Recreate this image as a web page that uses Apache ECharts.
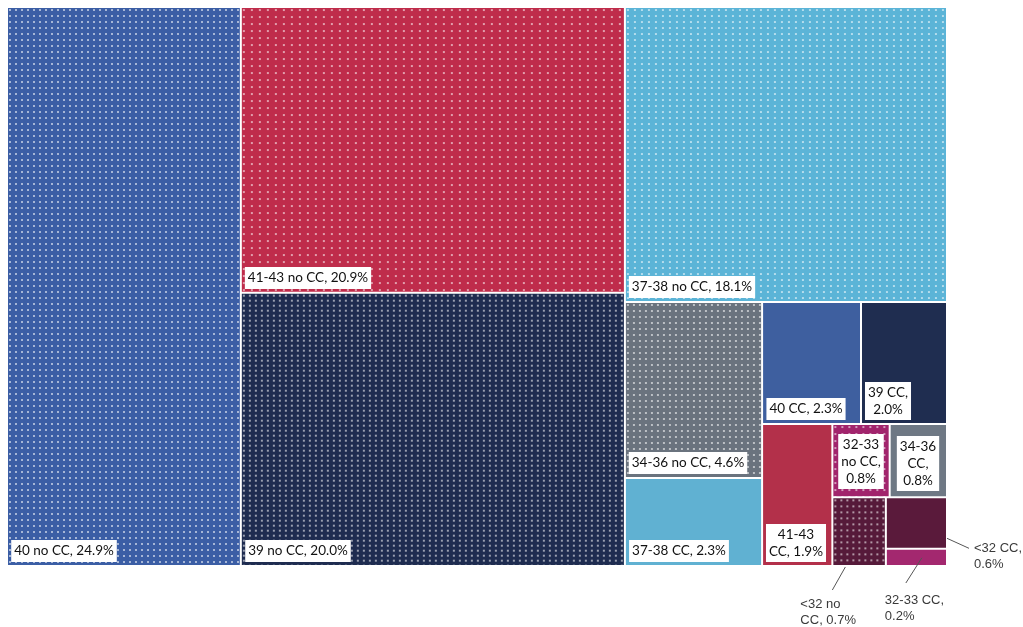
<!DOCTYPE html>
<html><head><meta charset="utf-8">
<script src="https://cdn.jsdelivr.net/npm/echarts@6/dist/echarts.min.js"></script>
<style>html,body{margin:0;padding:0;background:#fff}#c{width:1023px;height:627px}</style>
</head><body><div id="c"></div>
<script>
// ---------- data ----------
const names = ['40 no CC','41-43 no CC','39 no CC','37-38 no CC','34-36 no CC','37-38 CC','40 CC','39 CC','41-43 CC','32-33 no CC','34-36 CC','<32 no CC','<32 CC','32-33 CC'];
const shares = [24.9, 20.9, 20.0, 18.1, 4.6, 2.3, 2.3, 2.0, 1.9, 0.8, 0.8, 0.7, 0.6, 0.2];
// nesting of tiles (indices into names)
const grouping = [0, [1, 2], [3, [4, 5, 6, 7, 8, 9, 10, 11, 12, 13]]];
// words per label line (null = single line)
const lineWords = [null, null, null, null, null, null, null, [2, 1], [1, 2], [1, 2, 1], [1, 1, 1], [2, 2], [2, 1], [2, 1]];

// ---------- styles ----------
const baseColors = ['#3b5ea5', '#bf2c4b', '#1e2c50', '#5bb4d7', '#6a737e', '#60b1d2', '#3e5f9f', '#1f2d50', '#b3304a', '#a1246c', '#6e7884', '#561a3a', '#5a1a3b', '#a3286f'];
const dotSpacing = [[6, 6], [8, 7], [6, 5], [7, 6], [6, 6], null, null, null, null, [7, 7], null, [6, 6], null, null];

function fillFor(i) {
  const sp = dotSpacing[i];
  if (!sp) return baseColors[i];
  const c = document.createElement('canvas');
  c.width = sp[0]; c.height = sp[1];
  const g = c.getContext('2d');
  g.fillStyle = baseColors[i]; g.fillRect(0, 0, sp[0], sp[1]);
  g.fillStyle = 'rgba(255,255,255,0.55)'; g.fillRect(2, 2, 2, 2);
  return { image: c, repeat: 'repeat' };
}
function leaf(i) {
  return { name: names[i], value: shares[i], itemStyle: { color: fillFor(i), borderWidth: 1, borderColor: '#fff', gapWidth: 0 } };
}
let gid = 0;
function build(node) {
  if (typeof node === 'number') return leaf(node);
  return { name: 'group' + (gid++), children: node.map(build), itemStyle: { borderWidth: 0, gapWidth: 0, borderColor: '#fff' } };
}

const option = {
  animation: false,
  series: [{
    type: 'treemap', left: 7, top: 7, width: 940, height: 559,
    roam: false, nodeClick: false, sort: false, squareRatio: 1,
    breadcrumb: { show: false },
    label: { show: false }, upperLabel: { show: false },
    itemStyle: { borderWidth: 0, gapWidth: 0, borderColor: '#fff' },
    emphasis: { disabled: true },
    data: grouping.map(build)
  }]
};

const chart = echarts.init(document.getElementById('c'), null, { renderer: 'canvas' });
chart.setOption(option);

// ---------- labels placed from the treemap's own layout ----------
function labelLines(i) {
  const words = (names[i] + ', ' + shares[i].toFixed(1) + '%').split(' ');
  const lw = lineWords[i];
  if (!lw) return [words.join(' ')];
  const out = []; let p = 0;
  lw.forEach(n => { out.push(words.slice(p, p + n).join(' ')); p += n; });
  return out;
}
const placement = {
  9: { mode: 'cb', mb: 7 },
  10: { mode: 'cb', mb: 5 },
  11: { mode: 'out', text: t => [t.x - 33, t.y2 + 31], line: t => [t.x + 12, t.y2 + 2, t.x - 1, t.y2 + 25] },
  12: { mode: 'out', text: t => [t.x2 + 28, t.y + 42], line: t => [t.x2 + 1, t.y + 40, t.x2 + 23, t.y + 50] },
  13: { mode: 'out', text: t => [t.x - 2, t.y2 + 27], line: t => [t.x + 35, t.y + 8, t.x + 19, t.y2 + 18] }
};

const data = chart.getModel().getSeriesByIndex(0).getData();
const tiles = {};
for (let di = 0; di < data.count(); di++) {
  const k = names.indexOf(data.getName(di));
  if (k < 0) continue;
  const el = data.getItemGraphicEl(di);
  if (!el) continue;
  const r = el.getBoundingRect().clone();
  r.applyTransform(el.getComputedTransform());
  tiles[k] = { x: r.x + 1, y: r.y + 1, x2: r.x + r.width - 1, y2: r.y + r.height - 1 };
}

const FONT_IN = '13.5px Lato';
const FONT_OUT = '13px "Liberation Sans"';
const mctx = document.createElement('canvas').getContext('2d');
mctx.font = FONT_IN;
const els = [];
for (let k = 0; k < names.length; k++) {
  const t = tiles[k]; if (!t) continue;
  const lines = labelLines(k);
  const place = placement[k] || { mode: 'bl' };
  if (place.mode === 'out') {
    const p = place.text(t);
    els.push({ type: 'text', x: p[0], y: p[1], z: 100, silent: true,
      style: { legacy: false, text: lines.join('\n'), font: FONT_OUT, fill: '#3a3a3a', align: 'left', verticalAlign: 'top', lineHeight: 16 } });
    const l = place.line(t);
    els.push({ type: 'line', z: 100, silent: true, shape: { x1: l[0], y1: l[1], x2: l[2], y2: l[3] }, style: { stroke: '#555', lineWidth: 1 } });
  } else {
    const multi = lines.length > 1;
    const lh = multi ? 17 : 16;
    const pad = multi ? [2, 3, 2, 3] : [3, 3, 3, 3];
    const tw = Math.max(...lines.map(s => mctx.measureText(s).width));
    const bw = tw + pad[1] + pad[3];
    const left = place.mode === 'cb' ? t.x + (t.x2 - t.x - bw) / 2 : t.x + 3;
    const bottom = t.y2 - (place.mb != null ? place.mb : 3);
    els.push({ type: 'text', x: Math.round(left + bw / 2), y: Math.round(bottom), z: 100, silent: true,
      style: { legacy: false, text: lines.join('\n'), font: FONT_IN, fill: '#111', align: 'center', verticalAlign: 'bottom', lineHeight: lh, backgroundColor: '#fff', padding: pad } });
  }
}
chart.setOption({ graphic: { elements: els } });
</script>
</body></html>
